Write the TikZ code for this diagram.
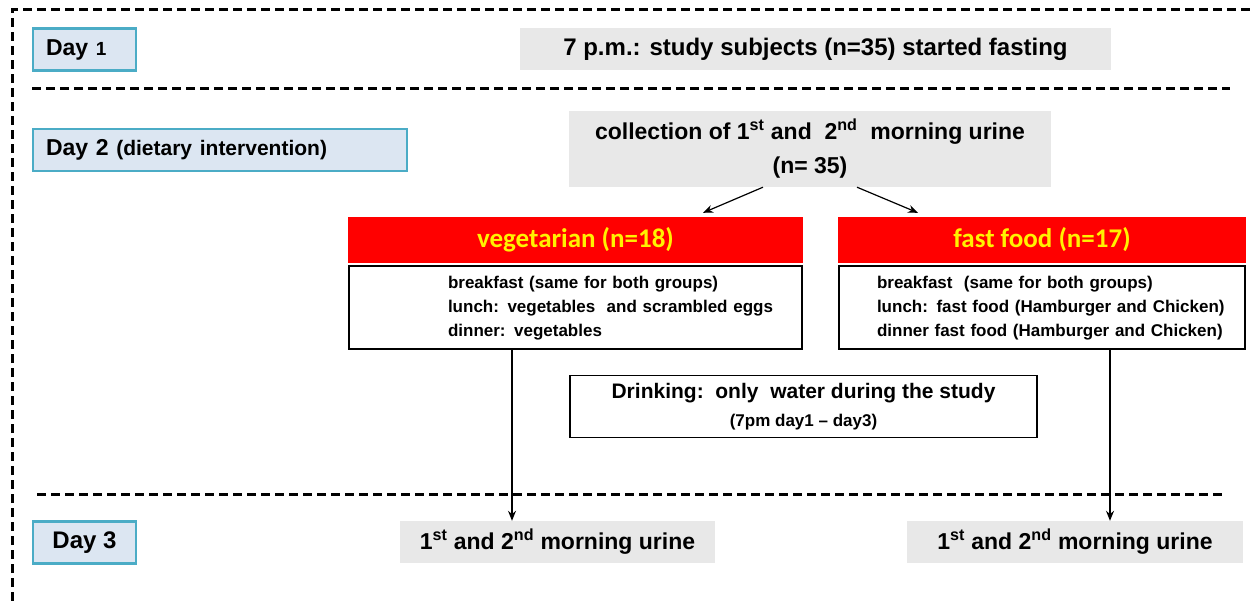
\documentclass[tikz,border=0pt]{standalone}
\usepackage{fontspec}
\setmainfont{Liberation Sans}
\newfontfamily\calibfont{Carlito}
\usetikzlibrary{arrows.meta}

\definecolor{dayfill}{HTML}{DCE6F2}
\definecolor{dayline}{HTML}{4BACC6}
\definecolor{lightgrey}{HTML}{E8E8E8}

\tikzset{
	daybox/.style={draw=dayline, line width=2.5pt, fill=dayfill, inner xsep=13pt, inner ysep=0pt,
		minimum height=42pt, font=\bfseries\fontsize{23}{27}\selectfont},
	shaded/.style={fill=lightgrey, inner sep=0pt, font=\bfseries\fontsize{23}{34}\selectfont, align=center},
	header/.style={fill=red, text=yellow, inner sep=0pt, minimum height=46pt, font=\calibfont\bfseries\fontsize{27}{30}\selectfont},
	whitebox/.style={draw, line width=1.3pt, fill=white, inner sep=0pt},
	meals/.style={whitebox, minimum height=83pt, align=left, font=\bfseries\fontsize{17}{24}\selectfont},
	divider/.style={line width=3pt, dash pattern=on 9pt off 5pt},
	arr/.style={line width=1.2pt, -{Stealth[length=10pt, width=8pt]}},
}

\begin{document}
\begin{tikzpicture}[x=1pt, y=-1pt]
	\useasboundingbox (0, 0) rectangle (1255, 601);
	% outer frame and day separators
	\draw[divider] (12, 601) -- (12, 10) -- (1255, 10);
	\draw[divider] (32, 89) -- (1230, 89);
	\draw[divider] (37, 494) -- (1225, 494);
	%
	\node[daybox, text width=77pt, align=left] (day1) at (84.5, 49.5) {Day {\fontsize{19}{20}\selectfont 1}};
	\node[daybox, text width=348pt, align=left] (day2) at (220, 150) {Day 2 {\fontsize{21}{22}\selectfont(dietary intervention)}};
	\node[daybox, minimum width=103pt, inner xsep=0pt, font=\bfseries\fontsize{24}{27}\selectfont] (day3) at (84.5, 542.5) {Day 3};
	%
	\node[shaded, minimum width=591pt, minimum height=42pt, font=\bfseries\fontsize{24}{28}\selectfont] (fasting) at (815.5, 49) {7 p.m.: study subjects (n=35) started fasting};
	\node[shaded, minimum width=482pt, minimum height=76pt] (collect) at (810, 149) {collection of 1\textsuperscript{st} and\ \ 2\textsuperscript{nd}\ \ morning urine\\(n= 35)};
	%
	\node[header, minimum width=455pt] (veghead) at (575.5, 240) {vegetarian (n=18)};
	\node[header, minimum width=408pt] (ffhead) at (1042, 240) {fast food (n=17)};
	\node[meals, text width=453pt] (vegmeal) at (575.5, 307.5) {\hspace*{99pt}\begin{tabular}{@{}l@{}}
		breakfast (same for both groups)\\
		lunch: vegetables\ \ and scrambled eggs\\
		dinner: vegetables
	\end{tabular}};
	\node[meals, text width=406pt] (ffmeal) at (1042, 307.5) {\hspace*{38pt}\begin{tabular}{@{}l@{}}
		breakfast\ \ (same for both groups)\\
		lunch: fast food (Hamburger and Chicken)\\
		dinner fast food (Hamburger and Chicken)
	\end{tabular}};
	%
	\node[whitebox, minimum width=467pt, minimum height=62pt, align=center, font=\bfseries\fontsize{21}{28}\selectfont] (drink) at (803.5, 406.5)
		{Drinking:\ \ only\ \ water during the study\\{\fontsize{17}{18}\selectfont(7pm day1 -- day3)}};
	%
	\node[shaded, minimum width=315pt, minimum height=42pt] (urineveg) at (557.5, 542) {1\textsuperscript{st} and 2\textsuperscript{nd} morning urine};
	\node[shaded, minimum width=336pt, minimum height=42pt] (urineff) at (1075, 542) {1\textsuperscript{st} and 2\textsuperscript{nd} morning urine};
	%
	\draw[arr] ([xshift=-47pt]collect.south) -- ([xshift=127.5pt, yshift=4pt]veghead.north);
	\draw[arr] ([xshift=47pt]collect.south) -- ([xshift=-124pt, yshift=4pt]ffhead.north);
	\draw[arr] ([xshift=-63.5pt]vegmeal.south) -- ([xshift=-63.5pt]vegmeal.south |- urineveg.north);
	\draw[arr] ([xshift=68pt]ffmeal.south) -- ([xshift=68pt]ffmeal.south |- urineff.north);
\end{tikzpicture}
\end{document}
